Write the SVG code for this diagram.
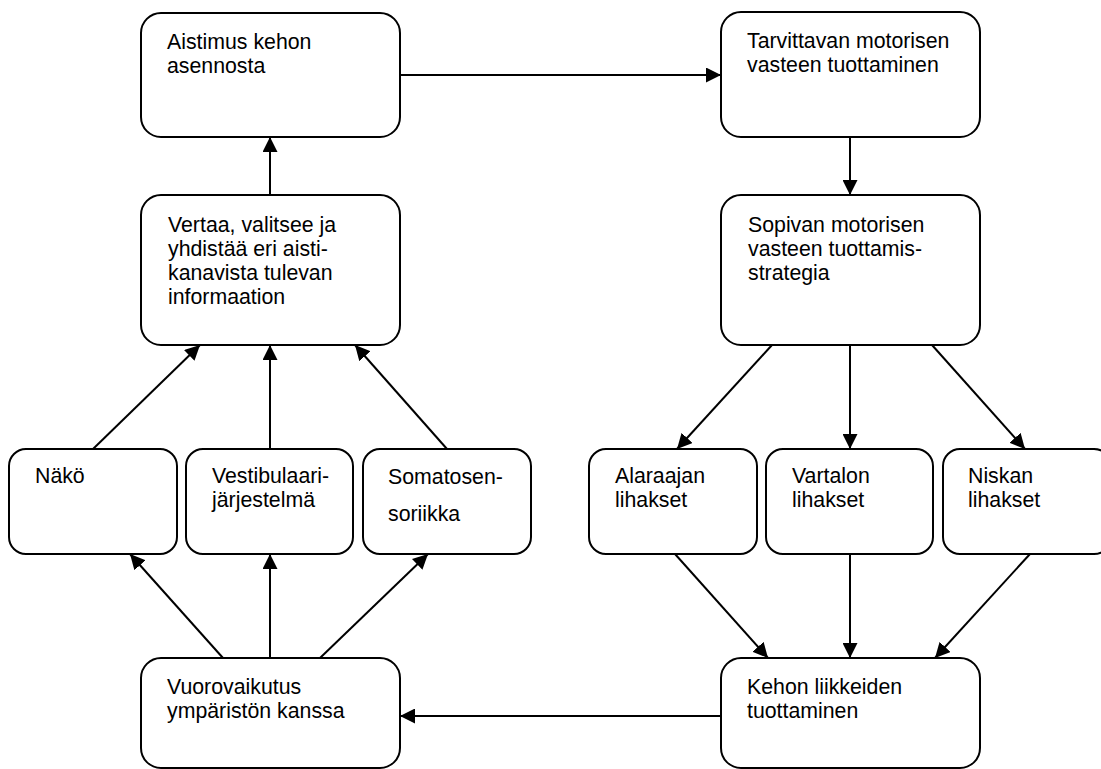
<svg xmlns="http://www.w3.org/2000/svg" width="1101" height="769" viewBox="0 0 1101 769">
<defs>
<style>
.box{fill:#fff;stroke:#000;stroke-width:2}
.t{font-family:"Liberation Sans",Arial,sans-serif;font-size:21.3px;fill:#000}
.c{stroke:#000;stroke-width:2;fill:none}
</style>
<marker id="ah" viewBox="0 0 10 10" refX="10" refY="5" markerWidth="7.5" markerHeight="7.5" markerUnits="strokeWidth" orient="auto">
<path d="M0,0 L10,5 L0,10 z" fill="#000"/>
</marker>
</defs>
<rect width="1101" height="769" fill="#fff"/>
<g id="connectors">
<line class="c" x1="400" y1="75" x2="721" y2="75" marker-end="url(#ah)"/>
<line class="c" x1="270" y1="195" x2="270" y2="137" marker-end="url(#ah)"/>
<line class="c" x1="850" y1="137" x2="850" y2="195" marker-end="url(#ah)"/>
<line class="c" x1="93" y1="449" x2="200" y2="345" marker-end="url(#ah)"/>
<line class="c" x1="270" y1="449" x2="270" y2="345" marker-end="url(#ah)"/>
<line class="c" x1="447" y1="449" x2="355" y2="345" marker-end="url(#ah)"/>
<line class="c" x1="223" y1="658" x2="130" y2="554" marker-end="url(#ah)"/>
<line class="c" x1="270" y1="658" x2="270" y2="554" marker-end="url(#ah)"/>
<line class="c" x1="320" y1="658" x2="428" y2="554" marker-end="url(#ah)"/>
<line class="c" x1="772" y1="345" x2="677" y2="449" marker-end="url(#ah)"/>
<line class="c" x1="850" y1="345" x2="850" y2="449" marker-end="url(#ah)"/>
<line class="c" x1="932" y1="345" x2="1025" y2="449" marker-end="url(#ah)"/>
<line class="c" x1="675" y1="554" x2="768" y2="658" marker-end="url(#ah)"/>
<line class="c" x1="850" y1="554" x2="850" y2="658" marker-end="url(#ah)"/>
<line class="c" x1="1030" y1="554" x2="935" y2="658" marker-end="url(#ah)"/>
<line class="c" x1="721" y1="716" x2="400" y2="716" marker-end="url(#ah)"/>
</g>
<g id="aistimus">
<rect class="box" x="141" y="13" width="259" height="124" rx="20"/>
<text class="t" x="167" y="49">Aistimus kehon</text>
<text class="t" x="167" y="73">asennosta</text>
</g>
<g id="tarvittavan">
<rect class="box" x="721" y="12" width="259" height="125" rx="20"/>
<text class="t" x="747" y="48">Tarvittavan motorisen</text>
<text class="t" x="747" y="72">vasteen tuottaminen</text>
</g>
<g id="vertaa">
<rect class="box" x="141" y="195" width="259" height="150" rx="20"/>
<text class="t" x="168" y="232">Vertaa, valitsee ja</text>
<text class="t" x="168" y="256">yhdistää eri aisti-</text>
<text class="t" x="168" y="280">kanavista tulevan</text>
<text class="t" x="168" y="304">informaation</text>
</g>
<g id="sopivan">
<rect class="box" x="721" y="195" width="259" height="150" rx="20"/>
<text class="t" x="748" y="232">Sopivan motorisen</text>
<text class="t" x="748" y="256">vasteen tuottamis-</text>
<text class="t" x="748" y="280">strategia</text>
</g>
<g id="nako">
<rect class="box" x="9" y="449" width="168" height="105" rx="17"/>
<text class="t" x="35" y="483">Näkö</text>
</g>
<g id="vestibulaari">
<rect class="box" x="186" y="449" width="167" height="105" rx="17"/>
<text class="t" x="212" y="483">Vestibulaari-</text>
<text class="t" x="212" y="507">järjestelmä</text>
</g>
<g id="somatosensoriikka">
<rect class="box" x="363" y="449" width="168" height="105" rx="17"/>
<text class="t" x="388" y="484">Somatosen-</text>
<text class="t" x="388" y="521">soriikka</text>
</g>
<g id="alaraajan">
<rect class="box" x="589" y="449" width="168" height="105" rx="17"/>
<text class="t" x="615" y="483">Alaraajan</text>
<text class="t" x="615" y="507">lihakset</text>
</g>
<g id="vartalon">
<rect class="box" x="766" y="449" width="167" height="105" rx="17"/>
<text class="t" x="792" y="483">Vartalon</text>
<text class="t" x="792" y="507">lihakset</text>
</g>
<g id="niskan">
<rect class="box" x="943" y="449" width="168" height="105" rx="17"/>
<text class="t" x="968" y="483">Niskan</text>
<text class="t" x="968" y="507">lihakset</text>
</g>
<g id="vuorovaikutus">
<rect class="box" x="141" y="658" width="259" height="110" rx="20"/>
<text class="t" x="167" y="694">Vuorovaikutus</text>
<text class="t" x="167" y="718">ympäristön kanssa</text>
</g>
<g id="kehon">
<rect class="box" x="721" y="658" width="259" height="110" rx="20"/>
<text class="t" x="747" y="694">Kehon liikkeiden</text>
<text class="t" x="747" y="718">tuottaminen</text>
</g>
</svg>
